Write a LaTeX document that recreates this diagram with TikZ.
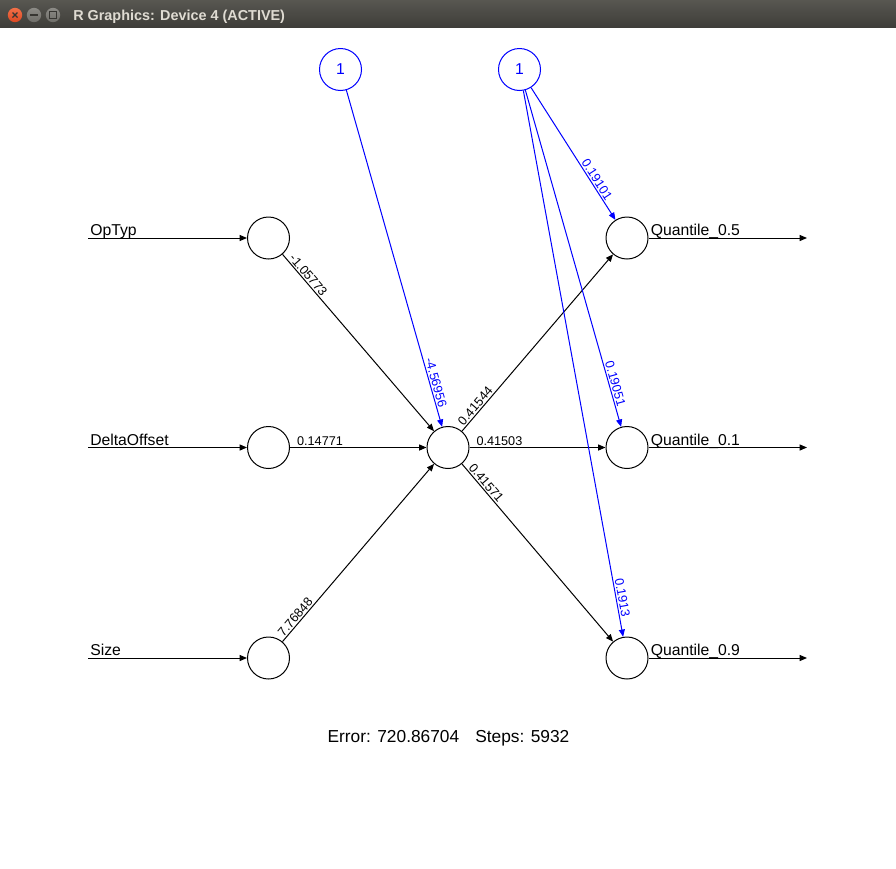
\documentclass[tikz,border=0pt]{standalone}
\usepackage{fontspec}
\setmainfont{Liberation Sans}
\usetikzlibrary{arrows.meta}
\definecolor{rblue}{RGB}{0,0,255}
\definecolor{barA}{RGB}{88,87,81}
\definecolor{barB}{RGB}{62,61,57}
\definecolor{titletxt}{RGB}{223,219,210}
\definecolor{closeA}{RGB}{242,112,72}
\definecolor{closeB}{RGB}{220,72,34}
\definecolor{btnA}{RGB}{140,139,134}
\definecolor{btnB}{RGB}{110,109,104}
\definecolor{btnsym}{RGB}{55,54,50}
\begin{document}
\begin{tikzpicture}[x=0.75pt,y=-0.75pt,
  neuron/.style={circle,draw=black,line width=0.75pt,minimum size=31.5pt,inner sep=0pt},
  biasnode/.style={neuron,draw=rblue,text=rblue,font=\fontsize{11.8}{13}\selectfont},
  conn/.style={draw=black,line width=0.75pt,-{Triangle[length=5.5pt,width=4.5pt]}},
  bconn/.style={conn,color=rblue},
  wlabel/.style={sloped,above,inner sep=1pt,font=\fontsize{9.5}{11}\selectfont},
  nlabel/.style={anchor=base west,inner sep=0pt,font=\fontsize{11.8}{13}\selectfont},
  btnshade/.style={top color=btnA,bottom color=btnB}
]
\useasboundingbox (0,0) rectangle (896,868);
\fill[white] (0,0) rectangle (896,868);
% window title bar
\shade[top color=barA,bottom color=barB] (0,0) rectangle (896,27);
\shade[top color=closeA,bottom color=closeB] (15,15) circle (5.4pt);
\draw[btnsym,line width=0.9pt] (12.5,12.5) -- (17.5,17.5) (12.5,17.5) -- (17.5,12.5);
\shade[btnshade] (34,15) circle (5.4pt);
\draw[btnsym,line width=1pt] (30,15) -- (38,15);
\shade[btnshade] (53,15) circle (5.4pt);
\draw[btnsym,line width=0.9pt] (49.5,11.5) rectangle (56.5,18.5);
\node[anchor=base west,inner sep=0pt,text=titletxt,font=\bfseries\fontsize{10.8}{12}\selectfont] (title) at (73,20) {R Graphics: Device 4 (ACTIVE)};

% neurons
\node[neuron] (i1) at (268.5,238) {};
\node[neuron] (i2) at (268.5,447.5) {};
\node[neuron] (i3) at (268.5,658) {};
\node[neuron] (h) at (448,447.5) {};
\node[neuron] (o1) at (627,238) {};
\node[neuron] (o2) at (627,447.5) {};
\node[neuron] (o3) at (627,658) {};
\node[biasnode] (b1) at (340.5,69.5) {1};
\node[biasnode] (b2) at (519.5,69.5) {1};

% input / output line ends
\coordinate (s1) at (88,238);
\coordinate (s2) at (88,447.5);
\coordinate (s3) at (88,658);
\coordinate (e1) at (807,238);
\coordinate (e2) at (807,447.5);
\coordinate (e3) at (807,658);

\draw[conn] (s1) -- (i1);
\draw[conn] (s2) -- (i2);
\draw[conn] (s3) -- (i3);
\draw[conn] (o1) -- (e1);
\draw[conn] (o2) -- (e2);
\draw[conn] (o3) -- (e3);

\node[nlabel] (l1) at (90,235.5) {OpTyp};
\node[nlabel] (l2) at (90,445) {DeltaOffset};
\node[nlabel] (l3) at (90,655.5) {Size};
\node[nlabel] (q1) at (650.5,235.5) {Quantile\_0.5};
\node[nlabel] (q2) at (650.5,445) {Quantile\_0.1};
\node[nlabel] (q3) at (650.5,655.5) {Quantile\_0.9};

% weighted connections
\draw[conn] (i1) -- node[wlabel,pos=0.14] {-1.05773} (h);
\draw[conn] (i2) -- node[wlabel,pos=0.22] {0.14771} (h);
\draw[conn] (i3) -- node[wlabel,pos=0.116] {7.76848} (h);
\draw[conn] (h) -- node[wlabel,pos=0.12] {0.41544} (o1);
\draw[conn] (h) -- node[wlabel,pos=0.22] {0.41503} (o2);
\draw[conn] (h) -- node[wlabel,pos=0.13] {0.41571} (o3);
\draw[bconn] (b1) -- node[wlabel,pos=0.874] {-4.56956} (h);
\draw[bconn] (b2) -- node[wlabel,pos=0.72] {0.19101} (o1);
\draw[bconn] (b2) -- node[wlabel,pos=0.877] {0.19051} (o2);
\draw[bconn] (b2) -- node[wlabel,pos=0.93] {0.1913} (o3);

\node[anchor=base,inner sep=0pt,font=\fontsize{13}{15}\selectfont] (err) at (448.5,742) {Error: 720.86704\hspace{12pt}Steps: 5932};
\end{tikzpicture}
\end{document}
